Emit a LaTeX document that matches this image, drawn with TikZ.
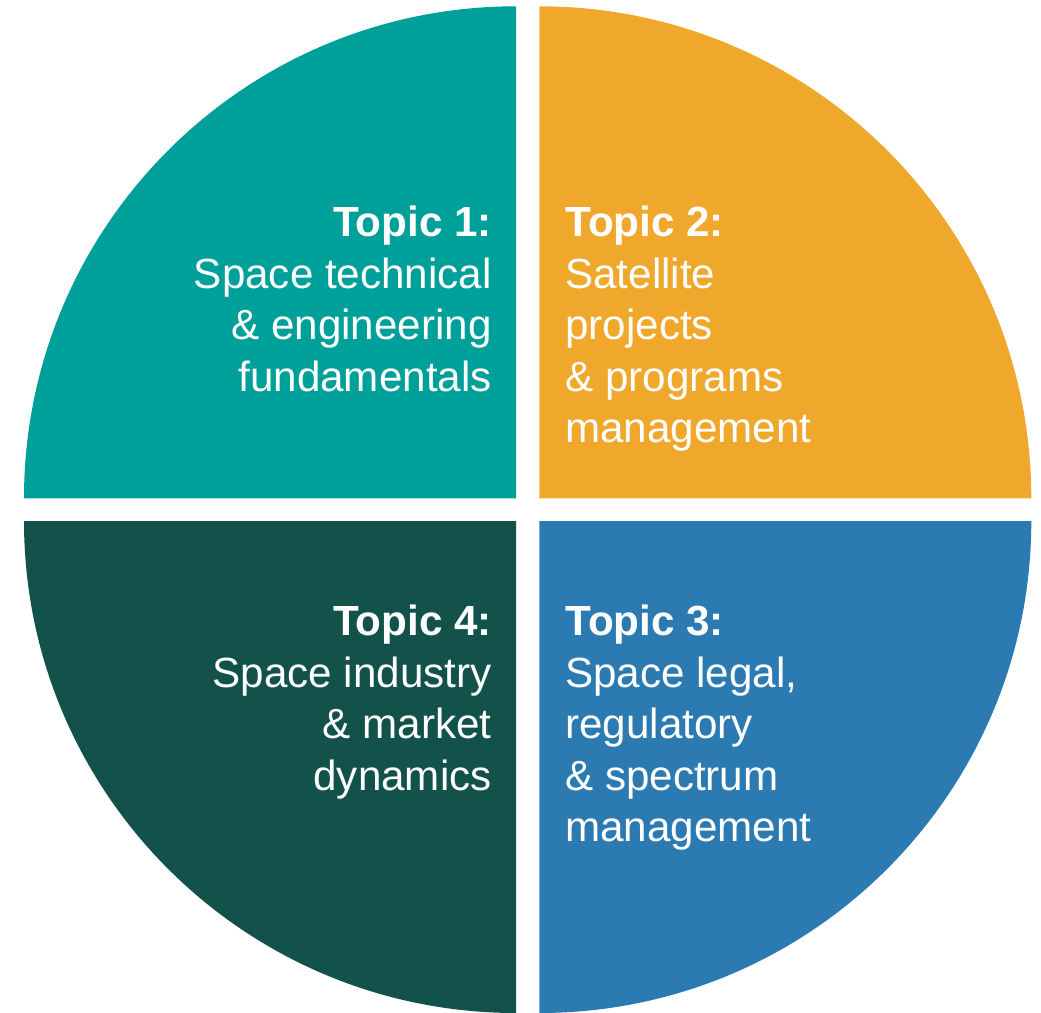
\documentclass[tikz,border=0pt]{standalone}
\usepackage{fontspec}
\setmainfont{Liberation Sans}
\usetikzlibrary{positioning}
\definecolor{topicteal}{RGB}{0,160,154}
\definecolor{topicorange}{RGB}{240,168,44}
\definecolor{topicgreen}{RGB}{18,82,74}
\definecolor{topicblue}{RGB}{43,123,178}

\begin{document}
\begin{tikzpicture}[
    x=0.02cm, y=0.02cm,
    topictext/.style={text=white, inner sep=0pt, font=\fontsize{24}{29.3}\selectfont},
    lefttext/.style={topictext, align=right, anchor=north east},
    righttext/.style={topictext, align=left, anchor=north west}
]
\useasboundingbox (0,0) rectangle (1041,1012);

% quarters
\coordinate (tl) at (516,513.7);
\coordinate (tr) at (539.3,513.7);
\coordinate (bl) at (516,491);
\coordinate (br) at (539.3,491);
\fill[topicteal] (tl) -- ++(-492,0) arc[start angle=180, end angle=90, radius=492] -- cycle;
\fill[topicorange] (tr) -- ++(0,492) arc[start angle=90, end angle=0, radius=492] -- cycle;
\fill[topicgreen] (bl) -- ++(0,-492) arc[start angle=270, end angle=180, radius=492] -- cycle;
\fill[topicblue] (br) -- ++(492,0) arc[start angle=0, end angle=-90, radius=492] -- cycle;

% texts
\node[lefttext] (topic1) at (492,806) {\textbf{Topic 1:}\\Space technical\\\& engineering\\fundamentals};
\node[righttext] (topic2) at (565,806) {\textbf{Topic 2:}\\Satellite\\projects\\\& programs\\management};
\node[righttext] (topic3) at (565,407) {\textbf{Topic 3:}\\Space legal,\\regulatory\\\& spectrum\\management};
\node[lefttext] (topic4) at (492,407) {\textbf{Topic 4:}\\Space industry\\\& market\\dynamics};
\end{tikzpicture}
\end{document}
